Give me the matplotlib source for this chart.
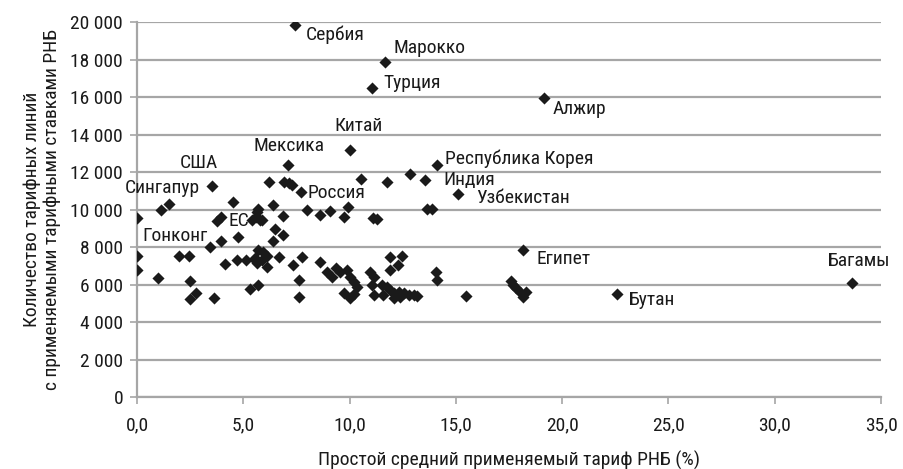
import matplotlib as mpl
mpl.use('Agg')
import matplotlib.pyplot as plt
from matplotlib import font_manager
from matplotlib.ticker import FuncFormatter, MultipleLocator

# pick a narrow sans if one is around
installed = {f.name for f in font_manager.fontManager.ttflist}
narrow = [f for f in ['Roboto Condensed', 'Liberation Sans Narrow', 'Open Sans Condensed',
                      'Noto Sans Condensed', 'DejaVu Sans Condensed'] if f in installed]
plt.rcParams['font.family'] = narrow[:1] + ['DejaVu Sans']
plt.rcParams['font.stretch'] = 'condensed'
plt.rcParams['font.size'] = 14

# simple average applied MFN tariff (%) / number of tariff lines
tariff = [
    7.45, 11.65, 11.05, 19.15, 10.0, 7.1, 14.1, 13.55, 15.1, 7.7, 3.55, 18.15, 22.6, 33.65,
    1.15, 1.5, 0.0, 4.5, 3.77, 3.97, 4.76, 3.42, 3.94, 0.0, 0.0, 1.98, 2.43, 0.99,
    2.48, 2.79, 2.48, 3.63, 4.13, 4.71, 5.15, 5.54, 5.3, 5.7,
    6.2, 6.94, 7.17, 7.29, 10.55, 11.76, 6.39,
    5.67, 5.6, 5.8, 5.4, 5.9, 5.7,
    6.86, 7.99, 8.59, 9.09, 9.72, 9.91, 11.1, 11.29,
    6.47, 6.86, 6.39,
    5.71, 5.95, 6.11, 5.56, 5.87, 5.64, 6.11, 6.7, 7.36, 7.76, 7.6, 7.6,
    8.59, 8.93, 9.17, 9.37, 9.56, 9.88, 10.03, 10.19, 10.35, 9.72, 10.03, 10.19,
    10.97, 11.13, 11.06, 11.13,
    12.86, 13.65, 13.88,
    11.88, 12.47, 12.26, 11.88, 14.08, 14.12,
    11.53, 11.76, 11.92, 12.07, 12.31, 12.55, 12.78, 13.01, 13.17, 11.57, 12.07, 12.39,
    15.5,
    17.6, 17.7, 17.85, 18.0, 18.15, 18.3,
]
lines = [
    19850, 17850, 16500, 15950, 13150, 12400, 12350, 11550, 10850, 10950, 11250, 7850, 5500, 6100,
    9970, 10280, 9530, 10420, 9400, 9620, 8550, 8020, 8320, 7520, 6770, 7520, 7520, 6330,
    6200, 5560, 5210, 5300, 7080, 7300, 7300, 7300, 5770, 5970,
    11450, 11480, 11430, 11300, 11610, 11480, 10240,
    9890, 9620, 9440, 9440, 9440, 10050,
    9650, 9970, 9710, 9940, 9620, 10150, 9530, 9480,
    8940, 8640, 8320,
    7840, 7750, 7520, 7400, 7300, 7130, 6950, 7450, 7040, 7450, 6240, 5350,
    7220, 6680, 6420, 6860, 6680, 6770, 6420, 6150, 5880, 5530, 5260, 5490,
    6680, 6420, 5970, 5440,
    11920, 10010, 10010,
    7450, 7520, 7040, 6770, 6680, 6240,
    5970, 5880, 5700, 5530, 5620, 5530, 5440, 5440, 5390, 5440, 5260, 5350,
    5390,
    6200, 5950, 5800, 5600, 5350, 5600,
]

# country labels and where the text sits
label_names = ['Сербия', 'Марокко', 'Турция', 'Алжир', 'Китай', 'Мексика',
               'Республика Корея', 'Индия', 'Узбекистан', 'Россия', 'США',
               'Сингапур', 'Гонконг', 'ЕС', 'Египет', 'Бутан', 'Багамы']
label_x = [7.96, 12.06, 11.59, 19.55, 9.3, 5.46, 14.5, 14.4, 15.95, 8.0, 2.03,
           -0.57, 0.24, 4.29, 18.8, 23.13, 32.5]
label_y = [19300, 18600, 16750, 15350, 14450, 13400, 12700, 11550, 10600, 10900, 12500,
           11150, 8600, 9400, 7350, 5150, 7250]

fig = plt.figure(figsize=(9.04, 4.69), dpi=100)
ax = fig.add_axes([0.1515, 0.1535, 0.8231, 0.7995])

ax.scatter(tariff, lines, marker='D', s=38, c='#1a1a1a', linewidths=0, zorder=3)

for name, tx, ty in zip(label_names, label_x, label_y):
    ax.text(tx, ty, name, ha='left', va='center', color='#1a1a1a', fontsize=14, zorder=4)

ax.set_xlim(0, 35)
ax.set_ylim(0, 20000)
ax.xaxis.set_major_locator(MultipleLocator(5))
ax.yaxis.set_major_locator(MultipleLocator(2000))
ax.xaxis.set_major_formatter(FuncFormatter(lambda v, p: '{:.1f}'.format(v).replace('.', ',')))
ax.yaxis.set_major_formatter(FuncFormatter(lambda v, p: '{:,d}'.format(int(v)).replace(',', ' ')))

ax.grid(axis='y', color='#a6a6a6', lw=1.6, zorder=0)
ax.set_axisbelow(True)
for s in ['top', 'right']:
    ax.spines[s].set_visible(False)
for s in ['left', 'bottom']:
    ax.spines[s].set_color('#a6a6a6')
    ax.spines[s].set_linewidth(1.6)
ax.tick_params(axis='both', colors='#a6a6a6', width=1.2, length=5, labelcolor='#1a1a1a',
               labelsize=14)
ax.tick_params(axis='x', pad=9)
ax.tick_params(axis='y', pad=5)

ax.set_xlabel('Простой средний применяемый тариф РНБ (%)', fontsize=14, color='#1a1a1a',
              labelpad=12)
ax.set_ylabel('Количество тарифных линий\nс применяемыми тарифными ставками РНБ',
              fontsize=14, color='#1a1a1a', labelpad=7, linespacing=1.1)

fig.savefig('out.png', dpi=100)
